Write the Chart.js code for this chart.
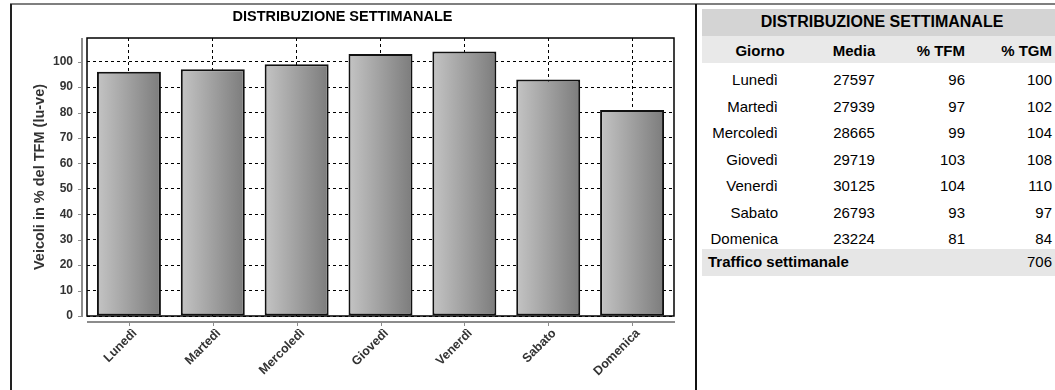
<!DOCTYPE html>
<html lang="it">
<head>
<meta charset="utf-8">
<title>Distribuzione settimanale</title>
<script src="https://cdn.jsdelivr.net/npm/chart.js@4.4.1/dist/chart.umd.min.js"></script>
<style>
  html, body { margin: 0; padding: 0; background: #fff; overflow: hidden; }
  body { width: 1055px; height: 390px; position: relative; font-family: "Liberation Sans", Arial, sans-serif; }
  .frame-top  { position: absolute; left: 10px; right: 0; top: 3px; height: 2px; background: #7f7f7f; }
  .frame-left { position: absolute; left: 10px; top: 4px; bottom: 0; width: 2px; background: #222; }
  .divider    { position: absolute; left: 695px; top: 4px; bottom: 0; width: 2px; background: #111; }
  #chart-wrap { position: absolute; left: 11px; top: 5px; width: 684px; height: 385px; }
  #week-table {
    position: absolute; left: 702px; top: 9px; width: 360px;
    border-collapse: collapse; table-layout: fixed; font-size: 15px; color: #000;
  }
  #week-table td, #week-table th { padding: 0; height: 26.5px; line-height: 26.5px; white-space: nowrap; }
  #week-table tbody td { position: relative; top: 4px; }
  #week-table .row-title th { background: #d4d4d4; text-align: center; height: 27px; font-size: 16px; }
  #week-table .row-head th  { background: #e9e9e9; height: 27px; }
  #week-table .row-head th span { position: relative; top: 2px; }
  #week-table .c1 { text-align: right; padding-right: 40px; }
  #week-table .c2 { text-align: center; }
  #week-table .c3, #week-table .c4 { text-align: right; padding-right: 10px; }
  #week-table th.c1 { text-align: center; padding-right: 0; }
  #week-table th.c2 { text-align: center; }
  #week-table tbody .row-total td { top: 0; background: #e6e6e6; font-weight: bold; height: 27px; }
  #week-table .row-total td.total-label { text-align: left; padding-left: 6px; }
  #week-table .row-total td.c4 { font-weight: normal; }
</style>
</head>
<body>
<div class="frame-top"></div>
<div class="frame-left"></div>
<div class="divider"></div>
<div id="chart-wrap"><canvas id="chart-week"></canvas></div>

<table id="week-table">
  <colgroup>
    <col style="width:116px"><col style="width:72px"><col style="width:85px"><col style="width:87px">
  </colgroup>
  <thead>
    <tr class="row-title"><th colspan="4">DISTRIBUZIONE SETTIMANALE</th></tr>
    <tr class="row-head">
      <th class="c1"><span>Giorno</span></th><th class="c2"><span>Media</span></th>
      <th class="c3"><span>% TFM</span></th><th class="c4"><span>% TGM</span></th>
    </tr>
  </thead>
  <tbody id="week-body"></tbody>
</table>

<script>
// ── Data ──────────────────────────────────────────────────────────────────────
const DAYS      = ['Lunedì', 'Martedì', 'Mercoledì', 'Giovedì', 'Venerdì', 'Sabato', 'Domenica']
const MEDIA     = [27597, 27939, 28665, 29719, 30125, 26793, 23224]
const PCT_TFM   = [96, 97, 99, 103, 104, 93, 81]
const PCT_TGM   = [100, 102, 104, 108, 110, 97, 84]
const WEEK_TOTAL = 706
const Y_TICKS   = [0, 10, 20, 30, 40, 50, 60, 70, 80, 90, 100]
const Y_MAX     = 109.3

const BAR_PCT   = 0.763
const AXIS_GRAY = '#8c8c8c'
const TEXT_GRAY = '#333'

// ── Table ─────────────────────────────────────────────────────────────────────
function renderTable() {
  const rows = DAYS.map((d, i) => `
    <tr>
      <td class="c1">${d}</td>
      <td class="c2">${MEDIA[i]}</td>
      <td class="c3">${PCT_TFM[i]}</td>
      <td class="c4">${PCT_TGM[i]}</td>
    </tr>
  `).join('')
  document.getElementById('week-body').innerHTML = rows + `
    <tr class="row-total">
      <td class="total-label" colspan="3">Traffico settimanale</td>
      <td class="c4">${WEEK_TOTAL}</td>
    </tr>
  `
}

// ── Bar gradient (light left → dark right) ────────────────────────────────────
function barFill(ctx) {
  const chart = ctx.chart
  if (!chart.chartArea) return '#a0a0a0'
  const xs = chart.scales.x
  const c  = xs.getPixelForValue(ctx.dataIndex)
  const w  = xs.width / DAYS.length * BAR_PCT
  const g  = chart.ctx.createLinearGradient(c - w / 2, 0, c + w / 2, 0)
  g.addColorStop(0, '#c4c4c4')
  g.addColorStop(1, '#7c7c7c')
  return g
}

// ── Frame plugin: plot border + offset axis lines with tick marks ─────────────
const framePlugin = {
  id: 'frame',
  afterDatasetsDraw(chart) {
    const { ctx, chartArea: a, scales } = chart
    ctx.save()
    // plot border
    ctx.strokeStyle = '#000'
    ctx.lineWidth   = 1.5
    ctx.strokeRect(a.left, a.top, a.right - a.left, a.bottom - a.top)

    // y axis, detached to the left
    ctx.strokeStyle = AXIS_GRAY
    ctx.lineWidth   = 2
    ctx.beginPath()
    ctx.moveTo(a.left - 5, a.top)
    ctx.lineTo(a.left - 5, a.bottom + 1)
    ctx.stroke()
    ctx.lineWidth = 1
    Y_TICKS.forEach(v => {
      const y = Math.round(scales.y.getPixelForValue(v)) + 0.5
      ctx.beginPath()
      ctx.moveTo(a.left - 9, y)
      ctx.lineTo(a.left - 5, y)
      ctx.stroke()
    })

    // x axis, detached below
    ctx.lineWidth = 2
    ctx.beginPath()
    ctx.moveTo(a.left, a.bottom + 6)
    ctx.lineTo(a.right + 1, a.bottom + 6)
    ctx.stroke()
    ctx.lineWidth = 1
    DAYS.forEach((d, i) => {
      const x = Math.round(scales.x.getPixelForValue(i)) + 0.5
      ctx.beginPath()
      ctx.moveTo(x, a.bottom + 6)
      ctx.lineTo(x, a.bottom + 10)
      ctx.stroke()
    })
    ctx.restore()
  },
}

// ── Chart ─────────────────────────────────────────────────────────────────────
function renderChart() {
  new Chart(document.getElementById('chart-week'), {
    type: 'bar',
    data: {
      labels: DAYS,
      datasets: [{
        label: '% TFM',
        data:  PCT_TFM,
        backgroundColor:    barFill,
        borderColor:        '#111',
        borderWidth:        2,
        borderSkipped:      false,
        categoryPercentage: 1,
        barPercentage:      BAR_PCT,
      }],
    },
    options: {
      responsive:          true,
      maintainAspectRatio: false,
      animation:           false,
      layout: { padding: { top: 0, right: 21, bottom: 0, left: 0 } },
      plugins: {
        legend:  { display: false },
        tooltip: { enabled: false },
        title: {
          display: true,
          text:    'DISTRIBUZIONE SETTIMANALE',
          color:   '#000',
          font:    { family: 'Liberation Sans', size: 14.5, weight: 'bold' },
          padding: { top: 3, bottom: 12.6 },
        },
      },
      scales: {
        x: {
          border: { display: false, dash: [3, 3] },
          grid: {
            offset:     false,
            drawTicks:  false,
            color:      '#000',
            lineWidth:  1,
          },
          ticks: {
            color:       TEXT_GRAY,
            font:        { family: 'Liberation Sans', size: 12.5, weight: 'bold' },
            minRotation: 45,
            maxRotation: 45,
            padding:     10,
            labelOffset: 6,
          },
          afterFit(scale) { scale.height = 74 },
        },
        y: {
          min: 0,
          max: Y_MAX,
          border: { display: false, dash: [3, 3] },
          grid: {
            drawTicks: false,
            color:     '#000',
            lineWidth: 1,
          },
          ticks: {
            stepSize: 10,
            color:    TEXT_GRAY,
            font:     { family: 'Liberation Sans', size: 12, weight: 'bold' },
            padding:  14,
          },
          title: {
            display: true,
            text:    'Veicoli in % del TFM (lu-ve)',
            color:   TEXT_GRAY,
            font:    { family: 'Liberation Sans', size: 14.5, weight: 'bold' },
            padding: { top: 20.5, bottom: 0 },
          },
          afterBuildTicks(scale) {
            scale.ticks = scale.ticks.filter(t => Y_TICKS.includes(t.value))
          },
          afterFit(scale) { scale.width = 76 },
        },
      },
    },
    plugins: [framePlugin],
  })
}

renderTable()
renderChart()
</script>
</body>
</html>
